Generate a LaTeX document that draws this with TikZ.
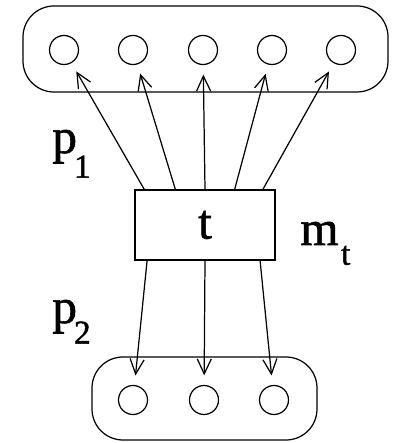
\documentclass[tikz,border=0pt]{standalone}
\usepackage{fontspec}
\setmainfont{Liberation Serif}
\newfontfamily\lblfont{Liberation Serif}[FakeBold=1.2]
\usepackage{tikz}
\usetikzlibrary{arrows.meta, positioning, calc}

% lowered subscript in upright text
\newcommand{\lowsub}[3]{\kern#1\raisebox{#2}{\fontsize{19}{19}\selectfont #3}}

\tikzset{
  unit/.style={draw, circle, minimum size=0.58cm, inner sep=0pt, line width=0.7pt},
  group/.style={draw, rounded corners=0.62cm, line width=0.7pt},
  arr/.style={-{Straight Barb[length=0.3cm, width=0.28cm]}, line width=0.7pt, shorten >=0.19cm},
  lbl/.style={font=\lblfont\fontsize{28}{30}\selectfont, inner sep=0pt, anchor=base west}
}

\begin{document}
\begin{tikzpicture}
  \useasboundingbox (0,0) rectangle (7.86,8.86);

  % --- Top group: five units ---
  \node[group, minimum width=7.3cm, minimum height=1.72cm] (top) at (4.11,7.88) {};
  \foreach \i/\x in {1/1.28, 2/2.66, 3/4.06, 4/5.44, 5/6.82}
    \node[unit] (u\i) at (\x,7.86) {};

  % --- Middle: task box ---
  \node[draw, line width=0.7pt, minimum width=2.8cm, minimum height=1.4cm,
        font=\lblfont\fontsize{28}{30}\selectfont] (t) at (4.1,4.36) {t};

  % --- Bottom group: three units ---
  \node[group, minimum width=4.5cm, minimum height=1.66cm] (bot) at (4.09,0.89) {};
  \foreach \i/\x in {1/2.66, 2/4.08, 3/5.48}
    \node[unit] (d\i) at (\x,0.86) {};

  % Arrows up
  \foreach \i/\f in {1/0.07, 2/0.29, 3/0.5, 4/0.71, 5/0.91}
    \draw[arr] ($(t.north west)!\f!(t.north east)$) -- (u\i);

  % Arrows down
  \foreach \i/\f in {1/0.09, 2/0.5, 3/0.89}
    \draw[arr] ($(t.south west)!\f!(t.south east)$) -- (d\i);

  % Labels
  \node[lbl] (p1) at (1.04,5.8) {p\lowsub{-0.06em}{-0.5em}{1}};
  \node[lbl] (p2) at (1.04,2.4) {p\lowsub{-0.06em}{-0.42em}{2}};
  \node[lbl] (mt) at (6.0,3.96) {m\lowsub{0.05em}{-0.4em}{t}};
\end{tikzpicture}
\end{document}
